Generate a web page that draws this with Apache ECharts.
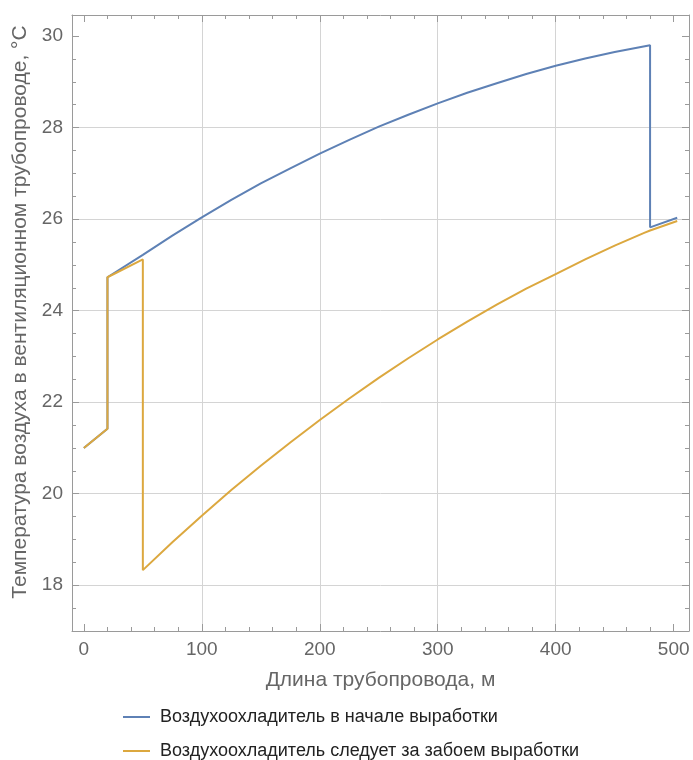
<!DOCTYPE html>
<html>
<head>
<meta charset="utf-8">
<script src="https://cdn.jsdelivr.net/npm/echarts@6/dist/echarts.min.js"></script>
<style>
html,body{margin:0;padding:0;background:#fff;}
#chart{width:693px;height:760px;}
</style>
</head>
<body>
<div id="chart"></div>
<script>
// Series 1: cooler at the start of the working (x = length, m; y = temperature, °C)
const blueX = [0, 20, 20, 50, 75, 100, 125, 150, 175, 200, 225, 250, 275, 300, 325, 350, 375, 400, 425, 450, 480, 480, 503];
const blueY = [21.0, 21.42, 24.73, 25.22, 25.64, 26.04, 26.42, 26.78, 27.11, 27.43, 27.73, 28.02, 28.28, 28.53, 28.76, 28.97, 29.17, 29.35, 29.51, 29.65, 29.8, 25.82, 26.03];
// Series 2: cooler follows the face
const orangeX = [0, 20, 20, 50, 50, 75, 100, 125, 150, 175, 200, 225, 250, 275, 300, 325, 350, 375, 400, 425, 450, 475, 480, 503];
const orangeY = [21.0, 21.42, 24.73, 25.12, 18.33, 18.94, 19.52, 20.08, 20.61, 21.12, 21.61, 22.08, 22.53, 22.96, 23.37, 23.76, 24.13, 24.48, 24.8, 25.12, 25.42, 25.70, 25.75, 25.96];

const seriesNames = ["Воздухоохладитель в начале выработки", "Воздухоохладитель следует за забоем выработки"];
const xTicks = [0, 100, 200, 300, 400, 500];
const xMinorTicks = [20, 40, 60, 80, 120, 140, 160, 180, 220, 240, 260, 280, 320, 340, 360, 380, 420, 440, 460, 480];
const xGrid = [100, 200, 300, 400];
const yTicks = [18, 20, 22, 24, 26, 28, 30];
const yMinorTicks = [17.5, 18.5, 19, 19.5, 20.5, 21, 21.5, 22.5, 23, 23.5, 24.5, 25, 25.5, 26.5, 27, 27.5, 28.5, 29, 29.5];
const yGrid = [18, 20, 22, 24, 26, 28];
const xName = "Длина трубопровода, м";
const yName = "Температура воздуха в вентиляционном трубопроводе, °C";

const X_MIN = -10.06, X_MAX = 513, Y_MIN = 17.0, Y_MAX = 30.46;
const FONT = "'Liberation Sans', Arial, sans-serif";
const FRAME = '#9a9a9a';
const GRID = '#d4d4d4';
const TXT = '#666666';
const G_LEFT = 72, G_RIGHT = 4, G_TOP = 15, G_BOTTOM = 129;
const PLOT_W = 693 - G_LEFT - G_RIGHT, PLOT_H = 760 - G_TOP - G_BOTTOM;

function pairs(xs, ys) { return xs.map((x, i) => [x, ys[i]]); }

function xAxisDef(pos, ticks, len, color, showLine, opts) {
  return Object.assign({
    type: 'value', position: pos, min: X_MIN, max: X_MAX,
    axisLine: { show: showLine, onZero: false, lineStyle: { color: FRAME, width: 1 } },
    axisTick: { show: true, inside: true, length: len, customValues: ticks, lineStyle: { color: color, width: 1 } },
    axisLabel: { show: false },
    splitLine: { show: false }
  }, opts || {});
}
function yAxisDef(pos, ticks, len, color, showLine, opts) {
  return Object.assign({
    type: 'value', position: pos, min: Y_MIN, max: Y_MAX,
    axisLine: { show: showLine, onZero: false, lineStyle: { color: FRAME, width: 1 } },
    axisTick: { show: true, inside: true, length: len, customValues: ticks, lineStyle: { color: color, width: 1 } },
    axisLabel: { show: false },
    splitLine: { show: false }
  }, opts || {});
}

const chart = echarts.init(document.getElementById('chart'), null, { renderer: 'canvas' });
chart.setOption({
  animation: false,
  backgroundColor: '#ffffff',
  textStyle: { fontFamily: FONT },
  grid: { left: G_LEFT, right: G_RIGHT, top: G_TOP, bottom: G_BOTTOM, containLabel: false },
  legend: {
    orient: 'vertical', left: 123, top: 708, padding: 0,
    itemWidth: 27, itemHeight: 2, itemGap: 16, icon: 'rect',
    textStyle: { fontFamily: FONT, fontSize: 18, color: '#222222', padding: [0, 0, 0, 5] },
    data: seriesNames
  },
  xAxis: [
    // grid lines (full-length ticks)
    xAxisDef('bottom', xGrid, PLOT_H, GRID, false),
    xAxisDef('bottom', xTicks, 7, FRAME, true, {
      axisLabel: { show: true, customValues: xTicks, margin: 9, color: TXT, fontSize: 19, fontFamily: FONT },
      name: xName, nameLocation: 'middle', nameGap: 39,
      nameTextStyle: { color: TXT, fontSize: 21, fontFamily: FONT }
    }),
    xAxisDef('bottom', xMinorTicks, 4, FRAME, false),
    xAxisDef('top', xTicks, 7, FRAME, true),
    xAxisDef('top', xMinorTicks, 4, FRAME, false)
  ],
  yAxis: [
    yAxisDef('left', yGrid, PLOT_W, GRID, false),
    yAxisDef('left', yTicks, 7, FRAME, true, {
      axisLabel: { show: true, customValues: yTicks, margin: 9, color: TXT, fontSize: 19, fontFamily: FONT },
      name: yName, nameLocation: 'middle', nameRotate: 90, nameGap: 35,
      nameTextStyle: { color: TXT, fontSize: 21, fontFamily: FONT, padding: [0, 0, 0, 22] }
    }),
    yAxisDef('left', yMinorTicks, 4, FRAME, false),
    yAxisDef('right', yTicks, 7, FRAME, true),
    yAxisDef('right', yMinorTicks, 4, FRAME, false)
  ],
  series: [
    {
      name: seriesNames[0], type: 'line', xAxisIndex: 1, yAxisIndex: 1,
      data: pairs(blueX, blueY), showSymbol: false, symbol: 'none',
      color: '#5E81B5', lineStyle: { color: '#5E81B5', width: 2 }, z: 2
    },
    {
      name: seriesNames[1], type: 'line', xAxisIndex: 1, yAxisIndex: 1,
      data: pairs(orangeX, orangeY), showSymbol: false, symbol: 'none',
      color: '#DCA83F', lineStyle: { color: '#DCA83F', width: 2 }, z: 3
    }
  ]
});
</script>
</body>
</html>
